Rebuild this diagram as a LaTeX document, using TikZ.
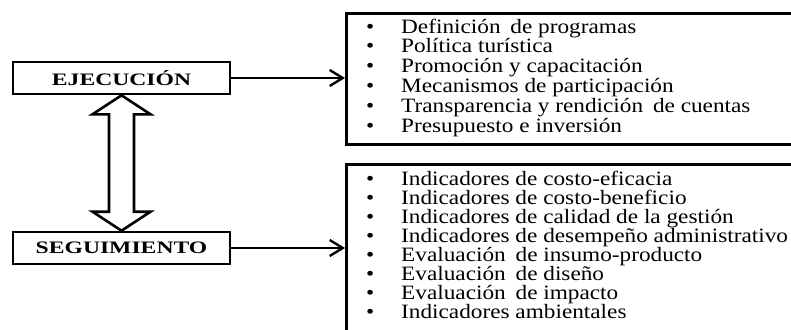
\documentclass[tikz,border=0pt]{standalone}
\usepackage{fontspec}
\setmainfont{Liberation Serif}
\newfontfamily\listfont[FakeStretch=1.14]{Liberation Serif}
\newfontfamily\boxfont[FakeStretch=1.35]{Liberation Serif}
\usetikzlibrary{arrows.meta,calc}
\tikzset{
  labelbox/.style={draw, line width=2.6pt, minimum width=217pt, minimum height=32pt, inner sep=0pt,
    font=\boxfont\bfseries\fontsize{17.5}{17.5}\selectfont},
  listbox/.style={draw, line width=2.8pt, anchor=north west, inner sep=0pt},
  listtext/.style={anchor=base west, align=left, inner sep=0pt},
  conn/.style={line width=2pt, -{Straight Barb[length=13pt,width=16pt,line width=2.4pt]}},
  dblarrow/.style={draw, fill=white, line width=2.6pt, line join=miter},
}
\newcommand{\itm}[1]{\makebox[35pt][l]{\textbullet}#1}
\begin{document}
\begin{tikzpicture}[x=1pt,y=-1pt]
\useasboundingbox (0,0) rectangle (791,329);
\begin{scope}
\clip (0,0) rectangle (791,329);
\node[labelbox] (ej) at (121.5,78) {EJECUCIÓN};
\node[labelbox] (sg) at (121.5,248) {SEGUIMIENTO};
\node[listbox, minimum width=470pt, minimum height=131pt] (la) at (345,12) {};
\node[listbox, minimum width=470pt, minimum height=190pt] (lb) at (345,163) {};
\node[listtext, font=\listfont\fontsize{20.4}{19.8}\selectfont] (ta) at (366,132) {%
\itm{Definición\hspace{4pt} de programas}\\
\itm{Política turística}\\
\itm{Promoción y capacitación}\\
\itm{Mecanismos de participación}\\
\itm{Transparencia y rendición\hspace{4pt} de cuentas}\\
\itm{Presupuesto e inversión}};
\node[listtext, font=\listfont\fontsize{20.4}{19}\selectfont] (tb) at (366,318) {%
\itm{Indicadores de costo-eficacia}\\
\itm{Indicadores de costo-beneficio}\\
\itm{Indicadores de calidad de la gestión}\\
\itm{Indicadores de desempeño administrativo}\\
\itm{Evaluación\hspace{4pt} de insumo-producto}\\
\itm{Evaluación\hspace{4pt} de diseño}\\
\itm{Evaluación\hspace{4pt} de impacto}\\
\itm{Indicadores ambientales}};
\draw[conn] (ej.east) -- (ej.east -| la.west);
\draw[conn] (sg.east) -- (sg.east -| lb.west);
\path[dblarrow] (ej.south) -- ++(-29,19) -- ++(16.5,0) -- ($(sg.north)+(-12.5,-19)$)
  -- ++(-16.5,0) -- (sg.north) -- ++(29,-19) -- ++(-16.5,0) -- ($(ej.south)+(12.5,19)$)
  -- ++(16.5,0) -- cycle;
\end{scope}
\end{tikzpicture}
\end{document}
